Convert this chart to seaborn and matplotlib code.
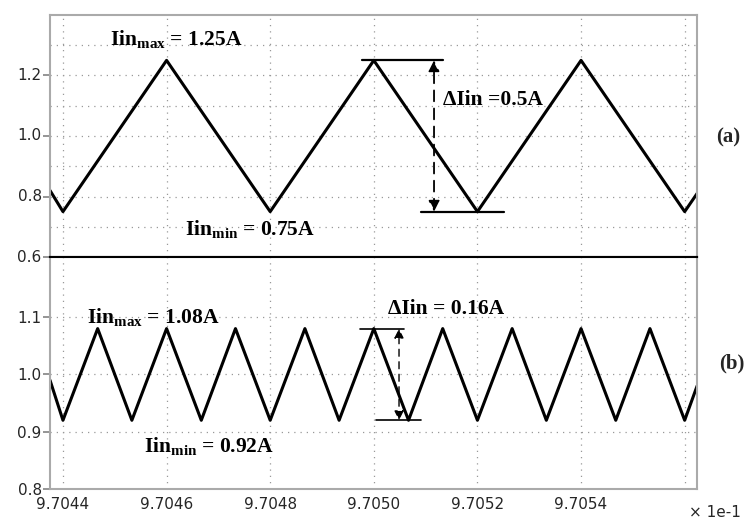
import numpy as np
import matplotlib
matplotlib.use("Agg")
import matplotlib.pyplot as plt
import seaborn as sns

sns.set_theme(style="white")
plt.rcParams["mathtext.fontset"] = "custom"
plt.rcParams["mathtext.rm"] = "Liberation Serif"
plt.rcParams["mathtext.bf"] = "Liberation Serif:bold"

# waveform vertices (x in units of 1e-1)
top_t = [9.704375, 9.7044, 9.7046, 9.7048, 9.7050, 9.7052, 9.7054, 9.7056, 9.705624]
top_i = [0.82, 0.75, 1.25, 0.75, 1.25, 0.75, 1.25, 0.75, 0.81]
bot_t = [9.704375, 9.7044, 9.704467, 9.704533, 9.7046, 9.704667, 9.704733, 9.7048,
         9.704867, 9.704933, 9.7050, 9.705067, 9.705133, 9.7052, 9.705267, 9.705333,
         9.7054, 9.705467, 9.705533, 9.7056, 9.705624]
bot_i = [0.99, 0.92, 1.08, 0.92, 1.08, 0.92, 1.08, 0.92, 1.08, 0.92, 1.08, 0.92,
         1.08, 0.92, 1.08, 0.92, 1.08, 0.92, 1.08, 0.92, 0.98]
xticks = [9.7044, 9.7046, 9.7048, 9.7050, 9.7052, 9.7054]
xgrid = xticks + [9.7056]

fig = plt.figure(figsize=(7.52, 5.26), dpi=100)
ax1 = fig.add_axes([0.0665, 0.5114, 0.8605, 0.4601])
ax2 = fig.add_axes([0.0665, 0.0703, 0.8605, 0.4411])

def px(p):
    return 9.7044 + (p - 63) * 1.9305e-6

for ax, t, i, ylim in [(ax1, top_t, top_i, (0.6, 1.4)), (ax2, bot_t, bot_i, (0.8, 1.205))]:
    sns.lineplot(x=t, y=i, ax=ax, color="black", lw=2.2, sort=False)
    ax.set_xlim(9.704375, 9.705624)
    ax.set_ylim(*ylim)
    for g in xgrid:
        ax.axvline(g, color="#999999", ls=(0, (1, 4)), lw=0.9, zorder=0)
    for s in ax.spines.values():
        s.set_color("#aaaaaa")
        s.set_linewidth(1.5)
    ax.tick_params(axis="y", left=True, length=5, color="#888888", labelsize=11, pad=1)
    ax.tick_params(axis="x", bottom=False)

for g in np.arange(0.7, 1.35, 0.1):
    ax1.axhline(g, color="#999999", ls=(0, (1, 4)), lw=0.9, zorder=0)
for g in [0.9, 1.0, 1.1]:
    ax2.axhline(g, color="#999999", ls=(0, (1, 4)), lw=0.9, zorder=0)
ax1.spines["bottom"].set_color("black")
ax2.spines["top"].set_color("black")

ax1.set_yticks([0.6, 0.8, 1.0, 1.2])
ax1.set_yticklabels(["0.6", "0.8", "1.0", "1.2"], va="center")
ax1.set_xticks([])
ax2.set_yticks([0.8, 0.9, 1.0, 1.1])
ax2.set_yticklabels(["0.8", "0.9", "1.0", "1.1"])
ax2.set_xticks(xticks)
ax2.set_xticklabels(["9.7044", "9.7046", "9.7048", "9.7050", "9.7052", "9.7054"], fontsize=11)
ax2.tick_params(axis="x", pad=0)
fig.text(0.985, 0.012, "× 1e-1", ha="right", va="bottom", fontsize=11)

tf = dict(fontsize=15.5, color="black", va="center", fontfamily="Liberation Serif", fontweight="bold")
ax1.text(px(110), 1.32, r"$\mathbf{Iin_{max}}$" + " = 1.25A", **tf)
ax1.text(px(185), 0.694, r"$\mathbf{Iin_{min}}$" + " = 0.75A", **tf)
ax1.text(px(443), 1.12, "ΔIin =0.5A", **tf)
ax2.text(px(87), 1.1, r"$\mathbf{Iin_{max}}$" + " = 1.08A", **tf)
ax2.text(px(144), 0.875, r"$\mathbf{Iin_{min}}$" + " = 0.92A", **tf)
ax2.text(px(388), 1.115, "ΔIin = 0.16A", **tf)
fig.text(740 / 752, 1 - 137 / 526, "(a)", ha="right", va="center", fontsize=15,
         fontfamily="Liberation Serif", fontweight="bold")
fig.text(744 / 752, 1 - 363 / 526, "(b)", ha="right", va="center", fontsize=15,
         fontfamily="Liberation Serif", fontweight="bold")

# delta markers
ax1.plot([px(362), px(443)], [1.25, 1.25], color="black", lw=1.6)
ax1.plot([px(421), px(504)], [0.75, 0.75], color="black", lw=1.6)
ax1.annotate("", xy=(px(434), 1.25), xytext=(px(434), 0.75),
             arrowprops=dict(arrowstyle="<|-|>", ls=(0, (6, 4)), color="black", lw=1.3,
                             mutation_scale=16, shrinkA=0, shrinkB=0))
ax2.plot([px(360), px(404)], [1.08, 1.08], color="black", lw=1.2)
ax2.plot([px(376), px(421)], [0.92, 0.92], color="black", lw=1.2)
ax2.annotate("", xy=(px(399), 1.08), xytext=(px(399), 0.92),
             arrowprops=dict(arrowstyle="<|-|>", ls=(0, (5, 4)), color="black", lw=1.0,
                             mutation_scale=14, shrinkA=0, shrinkB=0))

fig.savefig("out.png", dpi=100)
